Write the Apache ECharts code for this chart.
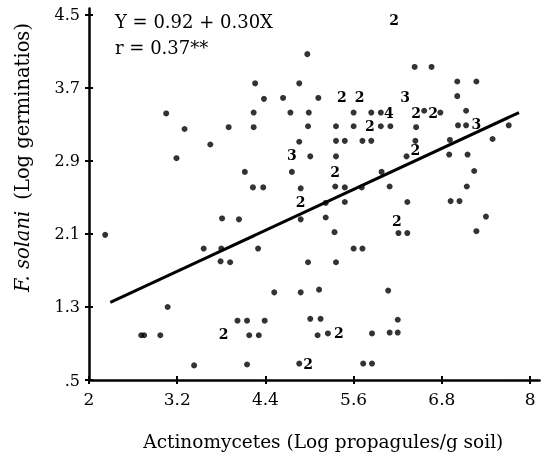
<!DOCTYPE html>
<html><head><meta charset="utf-8">
<script src="https://cdn.jsdelivr.net/npm/echarts@6/dist/echarts.min.js"></script>
<style>html,body{margin:0;padding:0;background:#fff}#c{width:548px;height:456px;will-change:transform}</style>
</head><body><div id="c"></div>
<script>
// single observations (drawn as dots)
const dotX = [3.05,3.30,3.90,3.65,3.19, 4.97,4.26,4.86,4.38,4.64,5.12, 4.24,4.74,4.99,5.60,5.84,5.97,
  4.24,4.98,5.36,5.60,5.97,6.10, 4.86,5.36,5.48,5.72,5.84, 5.01,5.36, 4.12,4.76,5.98,
  4.23,4.37,4.88,5.35,5.48,5.71,6.09, 6.43,6.66,7.01,7.27,7.01, 7.13,6.56,6.78,
  6.45,7.02,7.13,7.71, 6.44,6.91,7.49, 6.32,6.90,7.15, 7.24,7.14, 6.33,6.92,7.04,
  7.40,6.21,6.33,7.27, 6.07,6.20,6.09,6.20, 5.22,5.48, 4.04,4.88,5.22, 5.34,
  4.30,5.60,5.72, 3.92,4.98,5.36, 4.52,4.88,5.13, 4.02,4.15,4.39,5.01,5.15,
  4.18,4.31,5.11,5.25,5.85, 4.15,4.86,5.73,5.85, 3.81,2.22,3.56,3.80,3.79,
  2.71,2.75,2.97,3.07,3.43];
const dotY = [3.42,3.25,3.27,3.08,2.93, 4.07,3.75,3.75,3.58,3.59,3.59, 3.43,3.43,3.43,3.43,3.43,3.43,
  3.27,3.28,3.28,3.28,3.28,3.28, 3.11,3.12,3.12,3.12,3.12, 2.95,2.95, 2.78,2.78,2.78,
  2.61,2.61,2.60,2.62,2.61,2.61,2.62, 3.93,3.93,3.77,3.77,3.61, 3.45,3.45,3.43,
  3.27,3.29,3.29,3.29, 3.12,3.13,3.14, 2.95,2.97,2.97, 2.79,2.62, 2.45,2.46,2.46,
  2.29,2.11,2.11,2.13, 1.48,1.16,1.02,1.02, 2.44,2.45, 2.26,2.26,2.28, 2.12,
  1.94,1.94,1.94, 1.79,1.79,1.79, 1.46,1.46,1.49, 1.15,1.15,1.15,1.17,1.17,
  0.99,0.99,0.99,1.01,1.01, 0.67,0.68,0.68,0.68, 2.27,2.09,1.94,1.94,1.80,
  0.99,0.99,0.99,1.30,0.66];
// coincident observations (drawn as their count)
const multiX = [5.44,5.68,5.82,5.35,6.15,6.45,6.68,6.44,6.19,4.88,5.40,4.98,3.83, 4.76,6.30,7.27, 6.08];
const multiY = [3.60,3.60,3.28,2.78,4.44,3.43,3.43,3.02,2.24,2.45,1.01,0.68,1.00, 2.96,3.60,3.30, 3.43];
const multiN = [2,2,2,2,2,2,2,2,2,2,2,2,2, 3,3,3, 4];
// regression line as drawn
const lineX = [2.29, 7.85];
const lineY = [1.35, 3.43];
// axes
const xTicks = [2, 3.2, 4.4, 5.6, 6.8, 8];
const xTickLabels = ['2', '3.2', '4.4', '5.6', '6.8', '8'];
const yTicks = [0.5, 1.3, 2.1, 2.9, 3.7, 4.5];
const yTickLabels = ['.5', '1.3', '2.1', '2.9', '3.7', '4.5'];
const eqLines = ['Y = 0.92 + 0.30X', 'r = 0.37**'];
const xName = 'Actinomycetes (Log propagules/g soil)';
const yNameItalic = 'F. solani';
const yNameRest = '(Log germinatios)';

const FF = 'DejaVu Serif';
const chart = echarts.init(document.getElementById('c'), null, {renderer: 'svg'});
const fmtX = v => { const i = xTicks.findIndex(t => Math.abs(t - v) < 1e-6); return i >= 0 ? xTickLabels[i] : ''; };
const fmtY = v => { const i = yTicks.findIndex(t => Math.abs(t - v) < 1e-6); return i >= 0 ? yTickLabels[i] : ''; };
const axisBase = (min, max) => ({type: 'value', min, max, splitLine: {show: false}});

chart.setOption({
  animation: false,
  backgroundColor: '#fff',
  title: {
    text: eqLines.join('\n'), left: 115, top: 8, padding: 0,
    textStyle: {fontFamily: FF, fontSize: 18, fontWeight: 'normal', color: '#000', lineHeight: 26}
  },
  graphic: [
    {
      type: 'text', x: 22, y: 292, rotation: Math.PI / 2,
      style: {text: yNameItalic, font: 'italic 19.5px "DejaVu Serif"',
        fill: '#000000', align: 'left', verticalAlign: 'middle'}
    },
    {
      type: 'text', x: 22, y: 23, rotation: Math.PI / 2,
      style: {text: yNameRest, font: '19.5px "DejaVu Serif"',
        fill: '#000000', align: 'right', verticalAlign: 'middle'}
    }
  ],
  grid: {left: 89, right: 8.4, top: 8.5, bottom: 75.5},
  xAxis: [
    Object.assign(axisBase(2, 8.13), {
      position: 'bottom',
      name: xName, nameLocation: 'middle', nameGap: 52,
      nameTextStyle: {fontFamily: FF, fontSize: 18.5, color: '#000', padding: [0, 0, 0, 18]},
      axisLine: {show: true, lineStyle: {color: '#000', width: 2.5}},
      axisTick: {show: true, length: 4, lineStyle: {color: '#000', width: 2}, customValues: xTicks},
      axisLabel: {show: true, margin: 10, fontFamily: FF, fontSize: 17, color: '#000', customValues: xTicks, formatter: fmtX}
    }),
    Object.assign(axisBase(2, 8.13), {
      position: 'bottom',
      axisLine: {show: false},
      axisTick: {show: true, inside: true, length: 4, lineStyle: {color: '#000', width: 2}, customValues: xTicks},
      axisLabel: {show: false}
    })
  ],
  yAxis: [
    Object.assign(axisBase(0.5, 4.57), {
      position: 'left',
      axisLine: {show: true, lineStyle: {color: '#000', width: 2.5}},
      axisTick: {show: true, length: 4, lineStyle: {color: '#000', width: 2}, customValues: yTicks},
      axisLabel: {show: true, margin: 9, fontFamily: FF, fontSize: 16, color: '#000', customValues: yTicks, formatter: fmtY}
    }),
    Object.assign(axisBase(0.5, 4.57), {
      position: 'left',
      axisLine: {show: false},
      axisTick: {show: true, inside: true, length: 4, lineStyle: {color: '#000', width: 2}, customValues: yTicks},
      axisLabel: {show: false}
    })
  ],
  series: [
    {
      name: 'single', type: 'scatter', xAxisIndex: 0, yAxisIndex: 0,
      symbol: 'circle', symbolSize: 6, itemStyle: {color: '#000'},
      data: dotX.map((x, i) => [x, dotY[i]])
    },
    {
      name: 'count', type: 'scatter', xAxisIndex: 0, yAxisIndex: 0,
      symbol: 'circle', symbolSize: 0.1, itemStyle: {color: '#fff', opacity: 0},
      label: {show: true, position: 'inside', formatter: p => String(p.value[2]),
        fontFamily: FF, fontSize: 14, fontWeight: 'bold', color: '#000',
        textBorderWidth: 0, opacity: 1},
      data: multiX.map((x, i) => [x, multiY[i], multiN[i]])
    },
    {
      name: 'fit', type: 'line', xAxisIndex: 0, yAxisIndex: 0,
      symbol: 'none', lineStyle: {color: '#000', width: 3},
      data: lineX.map((x, i) => [x, lineY[i]])
    }
  ]
});
</script>
</body></html>
